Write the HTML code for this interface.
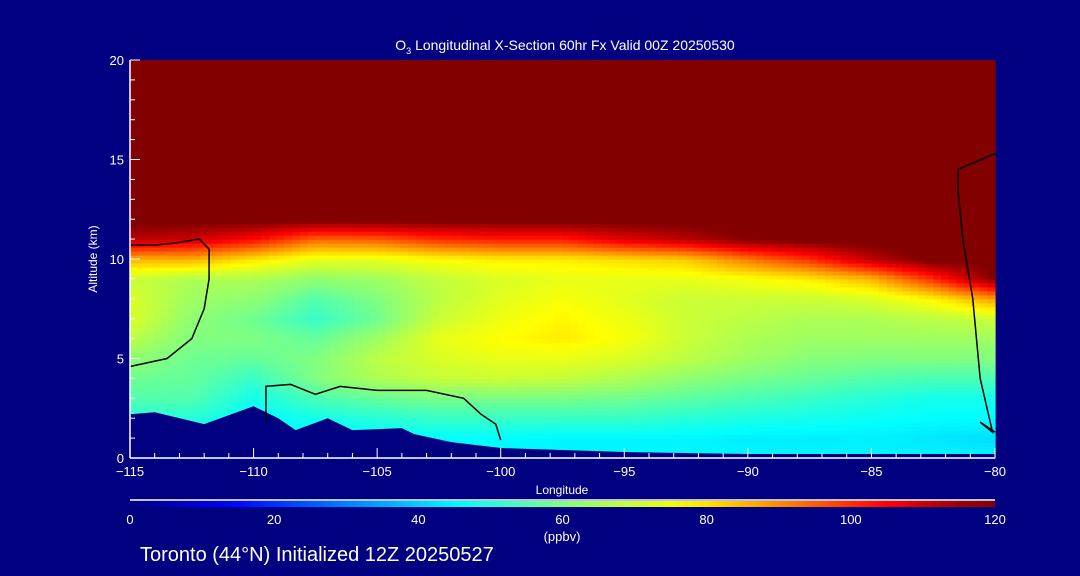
<!DOCTYPE html>
<html><head><meta charset="utf-8"><style>
body{margin:0;background:#000080;}
svg{display:block;font-family:"Liberation Sans",sans-serif;}
</style></head><body>
<svg id="chart" width="1080" height="576" viewBox="0 0 1080 576">
<rect x="0" y="0" width="1080" height="576" fill="#000080"/>
<g id="heat"></g>
<polygon id="terrain" fill="#000080"/>
<g id="contours" fill="none" stroke="#000" stroke-width="1.5"></g>
<g id="axes" stroke="#fff" fill="#fff"></g>
<text x="565" y="50" fill="#fff" font-size="14" text-anchor="middle">O<tspan font-size="9" dy="4">3</tspan><tspan dy="-4"> Longitudinal X-Section 60hr  Fx Valid 00Z 20250530</tspan></text>
<text x="562" y="494" fill="#fff" font-size="12" text-anchor="middle">Longitude</text>
<text transform="translate(97,259) rotate(-90)" fill="#fff" font-size="12" text-anchor="middle">Altitude (km)</text>
<defs><linearGradient id="cb" x1="0" x2="1" y1="0" y2="0"></linearGradient></defs>
<line x1="130" y1="500" x2="995" y2="500" stroke="#fff" stroke-width="1.5"/>
<rect x="130" y="501" width="865" height="6" fill="url(#cb)"/>
<g id="cblabels" fill="#fff" font-size="13" text-anchor="middle"></g>
<text x="562" y="541" fill="#fff" font-size="13" text-anchor="middle">(ppbv)</text>
<text x="140" y="561" fill="#fff" font-size="20">Toronto (44°N) Initialized 12Z 20250527</text>
</svg>
<script>
const lons=[-115,-112.5,-110,-107.5,-105,-102.5,-100,-97.5,-95,-92.5,-90,-87.5,-85,-82.5,-80];
const alts=[0,1,2,3,4,5,6,7,8,9,10,11,12,13,14,15,16,17,18,19,20];
const ozone=[
[45,45,45,45,45,45,45,45,45,45,45,45,45,45,45],
[48,48,45,46,46,46,46,45,45,45,44,44,44,43,42],
[50,50,46,48,50,52,52,52,52,50,49,48,47,46,46],
[55,55,48,54,57,59,59,59,58,56,54,52,50,48,48],
[58,57,52,60,66,69,70,69,66,62,59,57,55,54,54],
[62,58,57,60,68,72,74,74,72,68,64,61,60,60,60],
[68,60,60,57,64,74,77,79,76,70,66,64,64,64,64],
[72,62,58,52,58,70,75,78,75,70,68,66,66,68,70],
[72,64,62,55,60,68,73,76,73,70,70,70,72,78,88],
[70,66,66,62,64,69,72,74,74,74,76,79,85,100,118],
[86,86,80,74,74,77,79,79,81,83,92,100,112,120,120],
[112,110,104,94,95,100,102,102,108,112,118,120,120,120,120],
[120,120,120,120,120,120,120,120,120,120,120,120,120,120,120],
[120,120,120,120,120,120,120,120,120,120,120,120,120,120,120],
[120,120,120,120,120,120,120,120,120,120,120,120,120,120,120],
[120,120,120,120,120,120,120,120,120,120,120,120,120,120,120],
[120,120,120,120,120,120,120,120,120,120,120,120,120,120,120],
[120,120,120,120,120,120,120,120,120,120,120,120,120,120,120],
[120,120,120,120,120,120,120,120,120,120,120,120,120,120,120],
[120,120,120,120,120,120,120,120,120,120,120,120,120,120,120],
[120,120,120,120,120,120,120,120,120,120,120,120,120,120,120]];
const terrainLon=[-115,-114,-112,-110,-109,-108.3,-107,-106,-104,-103.5,-102,-100,-95,-90,-85,-80];
const terrainAlt=[2.2,2.3,1.7,2.6,2.0,1.4,2.0,1.4,1.5,1.2,0.8,0.5,0.3,0.2,0.2,0.2];
const xTicks=[-115,-110,-105,-100,-95,-90,-85,-80];
const yTicks=[0,5,10,15,20];
const cbTicks=[0,20,40,60,80,100,120];
const contour1Lon=[-109.5,-109.5,-108.5,-107.5,-106.5,-105,-103,-101.5,-100.8,-100.2,-100];
const contour1Alt=[1.8,3.6,3.7,3.2,3.6,3.4,3.4,3.0,2.2,1.7,0.9];
const contour2Lon=[-115,-113.5,-112.5,-112,-111.8,-111.8,-112.2,-113.2,-114,-115];
const contour2Alt=[4.6,5,6,7.5,9,10.5,11,10.8,10.7,10.7];
const contour3Lon=[-80,-80.6,-80.1,-80.6,-80.9,-81.3,-81.5,-81.5,-80];
const contour3Alt=[1.3,1.8,1.3,4,8,11,13.5,14.5,15.3];

const X0=130,X1=995,Y0=458,Y1=60;
const sx=v=>X0+(v+115)/35*(X1-X0);
const sy=v=>Y0-v/20*(Y0-Y1);
const stops=[[0,[0,0,128]],[14,[0,0,255]],[46,[0,255,255]],[60,[128,255,128]],[77,[255,255,0]],[90,[255,140,0]],[105,[255,0,0]],[118,[130,0,0]],[120,[130,0,0]]];
function col(v){v=Math.max(0,Math.min(120,v));for(let i=0;i<stops.length-1;i++){const a=stops[i],b=stops[i+1];if(v<=b[0]){const t=(v-a[0])/(b[0]-a[0]);const c=a[1].map((q,k)=>Math.round(q+(b[1][k]-q)*t));return `rgb(${c[0]},${c[1]},${c[2]})`;}}return 'rgb(130,0,0)';}
const NS="http://www.w3.org/2000/svg";
const heat=document.getElementById('heat');
const SX=8,SY=5;
for(let j=0;j<alts.length-1;j++)for(let i=0;i<lons.length-1;i++){
 const x0=sx(lons[i]),x1=sx(lons[i+1]),y0=sy(alts[j]),y1=sy(alts[j+1]);
 for(let a=0;a<SX;a++)for(let b=0;b<SY;b++){
  const u=(a+0.5)/SX,w=(b+0.5)/SY;
  const v=(1-u)*(1-w)*ozone[j][i]+u*(1-w)*ozone[j][i+1]+(1-u)*w*ozone[j+1][i]+u*w*ozone[j+1][i+1];
  const r=document.createElementNS(NS,'rect');
  
  
  const xa=x0+(x1-x0)*a/SX,ya=y0+(y1-y0)*(b+1)/SY;
  r.setAttribute('x',xa.toFixed(2));r.setAttribute('y',ya.toFixed(2));
  r.setAttribute('width',((x1-x0)/SX+0.6).toFixed(2));r.setAttribute('height',((y0-y1)/SY+0.6).toFixed(2));
  r.setAttribute('fill',col(v));heat.appendChild(r);
 }}
let pts=terrainLon.map((l,i)=>sx(l)+','+sy(terrainAlt[i]));
pts.push(X1+','+Y0,X0+','+Y0);
document.getElementById('terrain').setAttribute('points',pts.join(' '));
const cg=document.getElementById('contours');
[[contour1Lon,contour1Alt,'contour-line-a'],[contour2Lon,contour2Alt,'contour-line-b'],[contour3Lon,contour3Alt,'contour-line-c']].forEach(([L,A,n])=>{
 const p=document.createElementNS(NS,'polyline');
 
 
 p.setAttribute('points',L.map((l,i)=>sx(l)+','+sy(A[i])).join(' '));cg.appendChild(p);});
const ax=document.getElementById('axes');
function el(t,attrs,txt){const e=document.createElementNS(NS,t);for(const k in attrs)e.setAttribute(k,attrs[k]);if(txt!==undefined)e.textContent=txt;ax.appendChild(e);return e;}
let e=el('line',{x1:X0,y1:Y0,x2:X1,y2:Y0,'stroke-width':1.5});


e=el('line',{x1:X0,y1:Y0,x2:X0,y2:Y1,'stroke-width':1.5});


for(let v=-115;v<=-80;v++){const big=xTicks.includes(v);e=el('line',{x1:sx(v),y1:Y0,x2:sx(v),y2:Y0-(big?10:5)});

}
xTicks.forEach(v=>{e=el('text',{x:sx(v),y:476,'font-size':13,'text-anchor':'middle',stroke:'none'},'\u2212'+Math.abs(v));

});
for(let v=0;v<=20;v++){const big=yTicks.includes(v);e=el('line',{x1:X0,y1:sy(v),x2:X0+(big?10:5),y2:sy(v)});

}
yTicks.forEach(v=>{e=el('text',{x:124,y:sy(v)+5,'font-size':13,'text-anchor':'end',stroke:'none'},String(v));

});
const g=document.getElementById('cb');
for(let v=0;v<=120;v+=5){const s=document.createElementNS(NS,'stop');s.setAttribute('offset',(v/120).toFixed(3));s.setAttribute('stop-color',col(v));g.appendChild(s);}
const cl=document.getElementById('cblabels');
cbTicks.forEach(v=>{const t=document.createElementNS(NS,'text');


t.setAttribute('x',X0+v/120*(X1-X0));t.setAttribute('y',524);t.textContent=v;cl.appendChild(t);});
</script>
</body></html>
